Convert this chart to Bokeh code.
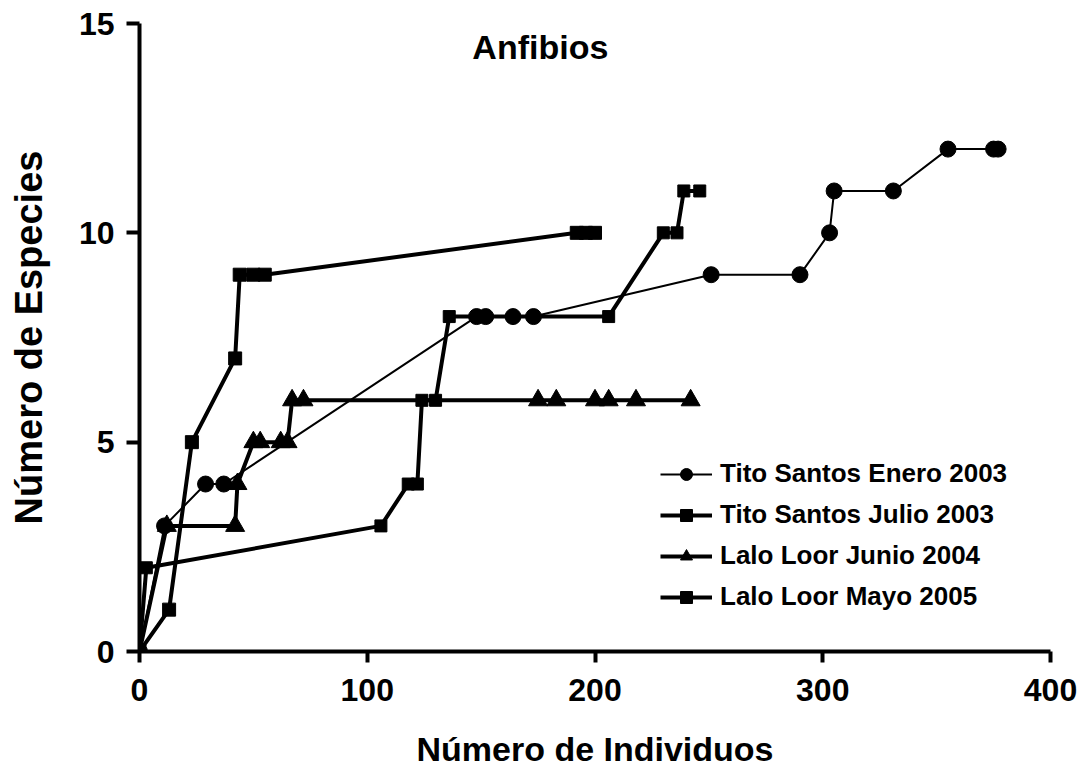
from bokeh.plotting import figure
from bokeh.models import Legend, LegendItem, Label, Range1d, FixedTicker
from bokeh.embed import file_html
from bokeh.resources import INLINE

# ---- data ----
enero_x = [0, 11, 29, 37, 148, 152, 164, 173, 251, 290, 303, 305, 331, 355, 375, 377]
enero_y = [0, 3, 4, 4, 8, 8, 8, 8, 9, 9, 10, 11, 11, 12, 12, 12]

julio_x = [0, 3, 106, 118, 122, 124, 130, 136, 206, 230, 236, 239, 246]
julio_y = [0, 2, 3, 4, 4, 6, 6, 8, 8, 10, 10, 11, 11]

junio_x = [0, 12, 42, 43, 50, 53, 62, 65, 67, 72, 175, 183, 200, 206, 218, 242]
junio_y = [0, 3, 3, 4, 5, 5, 5, 5, 6, 6, 6, 6, 6, 6, 6, 6]

mayo_x = [0, 13, 23, 42, 44, 50, 55, 192, 196, 200]
mayo_y = [0, 1, 5, 7, 9, 9, 9, 10, 10, 10]

series_names = ["Tito Santos Enero 2003", "Tito Santos Julio 2003",
                "Lalo Loor Junio 2004", "Lalo Loor Mayo 2005"]
x_ticks = [0, 100, 200, 300, 400]
y_ticks = [0, 5, 10, 15]

FONT = "Liberation Sans"

p = figure(width=1078, height=770, output_backend="svg", toolbar_location=None,
           x_range=Range1d(0, 400), y_range=Range1d(0, 15),
           min_border_left=139, min_border_right=28, min_border_top=23, min_border_bottom=119)
p.outline_line_color = None
p.xgrid.visible = False
p.ygrid.visible = False

for ax in (p.xaxis[0], p.yaxis[0]):
    ax.axis_line_width = 4
    ax.major_tick_line_width = 4
    ax.minor_tick_line_color = None
    ax.major_tick_in = 0
    ax.major_label_text_font = FONT
    ax.major_label_text_font_style = "bold"
    ax.major_label_text_font_size = "32px"
    ax.axis_label_text_font = FONT
    ax.axis_label_text_font_style = "bold"
    ax.axis_label_text_color = "black"
    ax.major_label_text_color = "black"

p.xaxis.axis_label_text_font_size = "34px"
p.yaxis.axis_label_text_font_size = "38px"
p.xaxis.ticker = FixedTicker(ticks=x_ticks)
p.yaxis.ticker = FixedTicker(ticks=y_ticks)
p.xaxis.major_tick_out = 11
p.yaxis.major_tick_out = 13
p.xaxis.major_label_standoff = 16
p.yaxis.major_label_standoff = 12
p.xaxis.axis_label = "Número de Individuos"
p.yaxis.axis_label = "Número de Especies"
p.xaxis.axis_label_standoff = 26
p.yaxis.axis_label_standoff = 26

items = []
l1 = p.line(enero_x, enero_y, line_color="black", line_width=2)
m1 = p.scatter(enero_x, enero_y, marker="circle", size=16, fill_color="black", line_color="black")
items.append(LegendItem(label=series_names[0], renderers=[l1, m1]))

l2 = p.line(julio_x, julio_y, line_color="black", line_width=4)
m2 = p.scatter(julio_x, julio_y, marker="square", size=12, fill_color="black", line_color="black")
items.append(LegendItem(label=series_names[1], renderers=[l2, m2]))

l3 = p.line(junio_x, junio_y, line_color="black", line_width=4)
m3 = p.scatter(junio_x, junio_y, marker="triangle", size=19, fill_color="black", line_color="black")
items.append(LegendItem(label=series_names[2], renderers=[l3, m3]))

l4 = p.line(mayo_x, mayo_y, line_color="black", line_width=4)
m4 = p.scatter(mayo_x, mayo_y, marker="square", size=13, fill_color="black", line_color="black")
items.append(LegendItem(label=series_names[3], renderers=[l4, m4]))

legend = Legend(items=items, location=(521, 39), padding=0, margin=0,
                border_line_color=None, background_fill_alpha=0,
                glyph_width=52, glyph_height=30, label_height=30, spacing=10,
                label_standoff=8, label_text_font=FONT, label_text_font_style="bold",
                label_text_font_size="26px", label_text_color="black")
p.add_layout(legend)

title = Label(x=176, y=14.45, text="Anfibios", text_font=FONT, text_font_style="bold",
              text_font_size="34px", text_align="center", text_baseline="middle",
              text_color="black")
p.add_layout(title)

open("out.html", "w").write(file_html(p, INLINE))
